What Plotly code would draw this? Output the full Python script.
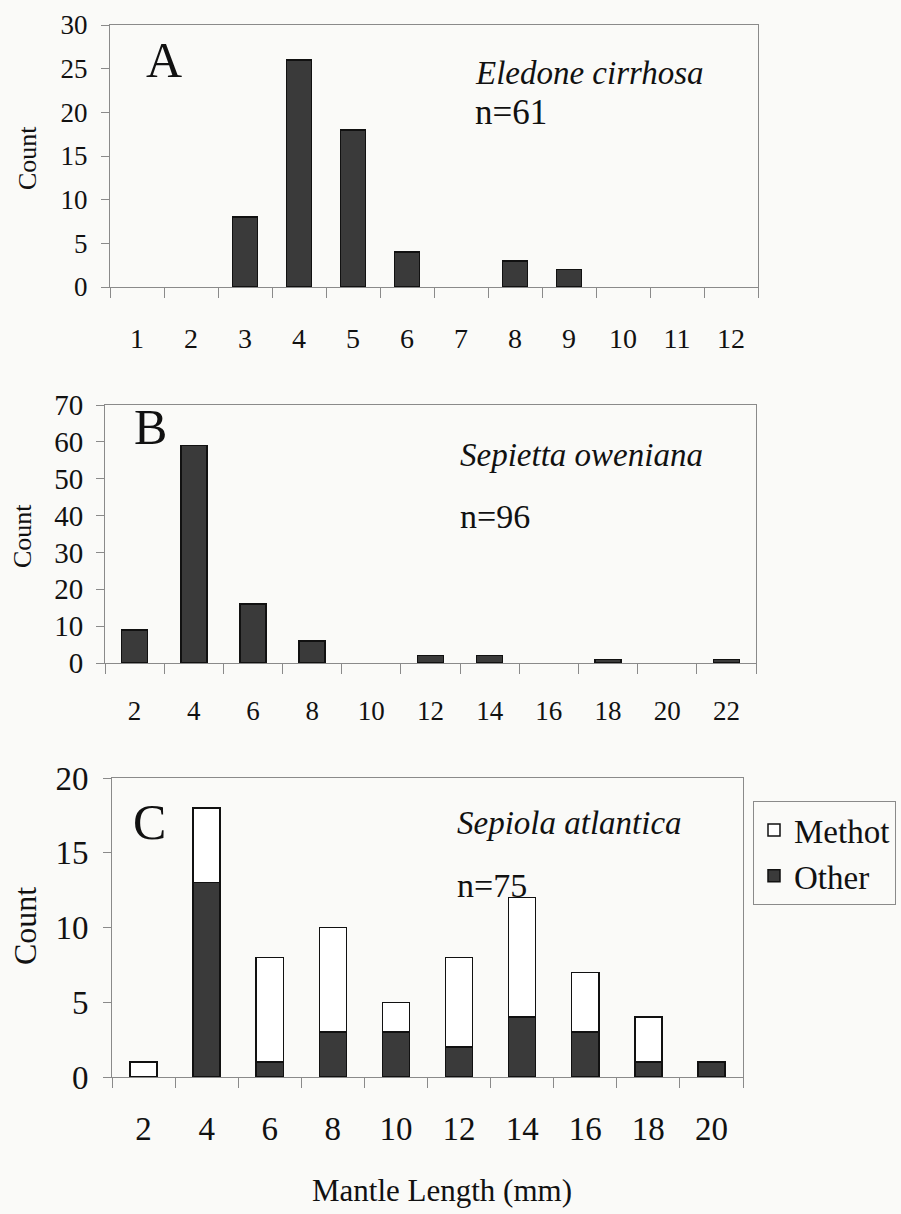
import plotly.graph_objects as go

# ---- data ----
a_lengths = [1, 2, 3, 4, 5, 6, 7, 8, 9, 10, 11, 12]
a_counts = [0, 0, 8, 26, 18, 4, 0, 3, 2, 0, 0, 0]

b_lengths = [2, 4, 6, 8, 10, 12, 14, 16, 18, 20, 22]
b_counts = [9, 59, 16, 6, 0, 2, 2, 0, 1, 0, 1]

c_lengths = [2, 4, 6, 8, 10, 12, 14, 16, 18, 20]
c_other = [0, 13, 1, 3, 3, 2, 4, 3, 1, 1]
c_methot = [1, 5, 7, 7, 2, 6, 8, 4, 3, 0]

W, H = 901, 1214
FONT = "Liberation Serif, Times New Roman, serif"
PAPER = "#fafaf8"
DARK = "#3a3a3a"
GRID = "#8a8a8a"


def nz(vals):
    return [v if v else None for v in vals]


def px(x):
    return x / W


def py(y):
    return 1 - y / H


fig = go.Figure()

fig.add_trace(go.Bar(x=a_lengths, y=nz(a_counts), width=0.46, marker=dict(color=DARK, line=dict(color="#111", width=1.5)),
                     xaxis="x", yaxis="y", showlegend=False))
fig.add_trace(go.Bar(x=b_lengths, y=nz(b_counts), width=0.88, marker=dict(color=DARK, line=dict(color="#111", width=1.5)),
                     xaxis="x2", yaxis="y2", showlegend=False))
fig.add_trace(go.Bar(x=c_lengths, y=nz(c_other), width=0.86, name="Other",
                     marker=dict(color=DARK, line=dict(color="#111", width=1.5)),
                     xaxis="x3", yaxis="y3"))
fig.add_trace(go.Bar(x=c_lengths, y=nz(c_methot), width=0.86, name="Methot",
                     marker=dict(color="white", line=dict(color="#111", width=1.5)),
                     xaxis="x3", yaxis="y3"))


def xaxis(domain, vals, rng, step, size, standoff, anchor):
    half = step / 2
    bounds = [v - half for v in vals] + [vals[-1] + half]
    return dict(domain=domain, range=rng, anchor=anchor, tickmode="array", tickvals=vals,
                ticktext=[str(v) for v in vals], ticks="", showline=True, mirror=True,
                linecolor=GRID, linewidth=1, showgrid=False, zeroline=False,
                tickfont=dict(family=FONT, size=size, color="#111"), ticklabelstandoff=standoff,
                minor=dict(tickmode="array", tickvals=bounds, ticks="outside", ticklen=10,
                           tickcolor=GRID, tickwidth=1, showgrid=False))


def yaxis(domain, rng, dtick, size, standoff, anchor):
    return dict(domain=domain, range=rng, anchor=anchor, dtick=dtick, tick0=0, ticks="outside",
                ticklen=8, tickcolor=GRID, showline=True, mirror=True, linecolor=GRID, linewidth=1,
                showgrid=False, zeroline=False, ticklabelstandoff=standoff,
                tickfont=dict(family=FONT, size=size, color="#111"))


fig.update_layout(
    width=W, height=H,
    margin=dict(l=0, r=0, t=0, b=0, autoexpand=False),
    paper_bgcolor=PAPER, plot_bgcolor=PAPER,
    barmode="stack",
    font=dict(family=FONT, color="#111"),
    xaxis=xaxis([px(110), px(758)], a_lengths, [0.5, 12.5], 1, 28, 26, "y"),
    yaxis=yaxis([py(287), py(25)], [0, 30], 5, 27, 8, "x"),
    xaxis2=xaxis([px(105), px(756)], b_lengths, [1, 23], 2, 27, 24, "y2"),
    yaxis2=yaxis([py(663), py(405)], [0, 70], 10, 29, 7, "x2"),
    xaxis3=xaxis([px(112), px(743)], c_lengths, [1, 21], 2, 33, 22, "y3"),
    yaxis3=yaxis([py(1077), py(778)], [0, 20], 5, 33, 8, "x3"),
    legend=dict(x=px(753), y=py(801), xanchor="left", yanchor="top", traceorder="reversed",
                bgcolor=PAPER, bordercolor=GRID, borderwidth=1,
                font=dict(family=FONT, size=33, color="#111")),
)

ann = []


def text(x, y, s, size, italic=False, anchor="left", angle=0):
    ann.append(dict(x=px(x), y=py(y), xref="paper", yref="paper", text=s, showarrow=False,
                    xanchor=anchor, yanchor="middle", textangle=angle,
                    font=dict(family=FONT, size=size, color="#111",
                              style="italic" if italic else "normal")))


text(164, 60, "A", 50, anchor="center")
text(150, 427, "B", 50, anchor="center")
text(149, 822, "C", 50, anchor="center")

text(473, 73, "Eledone cirrhosa", 33, italic=True)
text(473, 113, "n=61", 35)
text(458, 455, "Sepietta oweniana", 33, italic=True)
text(458, 517, "n=96", 34)
text(455, 823, "Sepiola atlantica", 33, italic=True)
text(455, 885, "n=75", 34)

text(27, 158, "Count", 26, anchor="center", angle=-90)
text(22, 536, "Count", 26, anchor="center", angle=-90)
text(25, 926, "Count", 32, anchor="center", angle=-90)
text(442, 1190, "Mantle Length (mm)", 31, anchor="center")

fig.update_layout(annotations=ann)

fig.write_html("out.html", config={"displayModeBar": False},
               post_script="document.body.style.margin='0';document.body.style.overflow='hidden';")
